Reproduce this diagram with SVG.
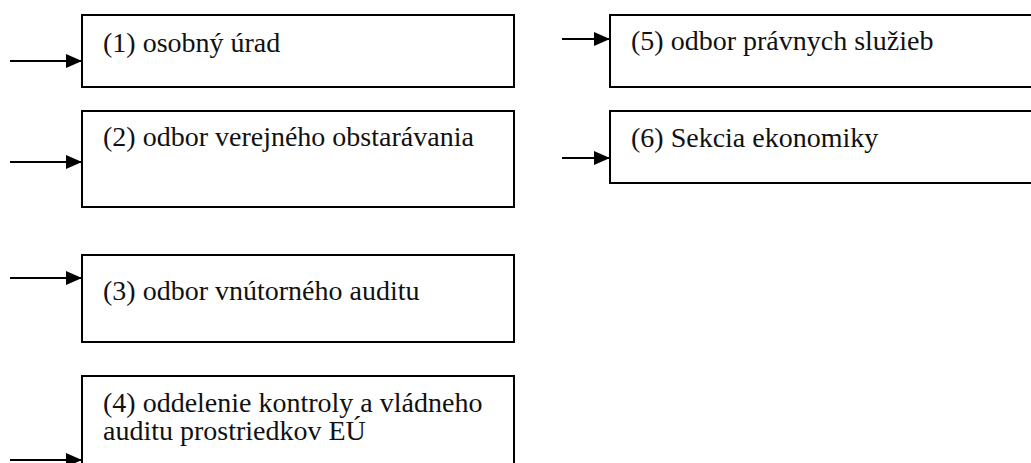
<svg xmlns="http://www.w3.org/2000/svg" width="1031" height="463" viewBox="0 0 1031 463">
  <style>
    .box { fill: #ffffff; stroke: #000000; stroke-width: 2; }
    .lbl { font-family: "Liberation Serif", "Times New Roman", serif; font-size: 28px; fill: #111111; }
    .arrow { stroke: #000000; stroke-width: 2; fill: none; marker-end: url(#head); }
  </style>
  <defs>
    <marker id="head" viewBox="0 0 16 14" refX="16" refY="7" markerWidth="16" markerHeight="14" markerUnits="userSpaceOnUse" orient="auto">
      <path d="M0,0 L16,7 L0,14 Z" fill="#000000"/>
    </marker>
  </defs>
  <rect width="1031" height="463" fill="#ffffff"/>

  <!-- incoming arrows -->
  <g id="connectors">
    <line class="arrow" x1="10" y1="61" x2="82" y2="61"/>
    <line class="arrow" x1="10" y1="162" x2="82" y2="162"/>
    <line class="arrow" x1="10" y1="278" x2="82" y2="278"/>
    <line class="arrow" x1="10" y1="460" x2="82" y2="460"/>
    <line class="arrow" x1="562" y1="39" x2="610" y2="39"/>
    <line class="arrow" x1="562" y1="158" x2="610" y2="158"/>
  </g>

  <g id="node1">
    <rect class="box" x="82" y="15" width="432" height="72"/>
    <text class="lbl" x="103" y="52">(1) osobný úrad</text>
  </g>
  <g id="node2">
    <rect class="box" x="82" y="111" width="432" height="96"/>
    <text class="lbl" x="103" y="146">(2) odbor verejného obstarávania</text>
  </g>
  <g id="node3">
    <rect class="box" x="82" y="255" width="432" height="87"/>
    <text class="lbl" x="103" y="300">(3) odbor vnútorného auditu</text>
  </g>
  <g id="node4">
    <rect class="box" x="82" y="376" width="432" height="100"/>
    <text class="lbl" x="103" y="412">(4) oddelenie kontroly a vládneho</text>
    <text class="lbl" x="103" y="440">auditu prostriedkov EÚ</text>
  </g>
  <g id="node5">
    <rect class="box" x="610" y="15" width="440" height="72"/>
    <text class="lbl" x="631" y="50">(5) odbor právnych služieb</text>
  </g>
  <g id="node6">
    <rect class="box" x="610" y="111" width="440" height="72"/>
    <text class="lbl" x="631" y="147">(6) Sekcia ekonomiky</text>
  </g>
</svg>
